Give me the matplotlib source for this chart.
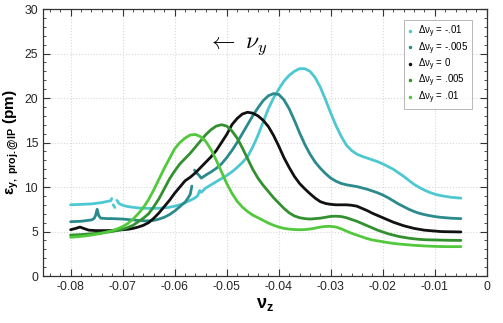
import numpy as np
import matplotlib
matplotlib.use("Agg")
import matplotlib.pyplot as plt
from matplotlib.lines import Line2D

plt.rcParams["font.family"] = ["Liberation Sans", "DejaVu Sans"]
plt.rcParams["mathtext.fontset"] = "custom"
plt.rcParams["mathtext.rm"] = "Liberation Sans"
plt.rcParams["mathtext.it"] = "Liberation Sans:italic"
plt.rcParams["mathtext.bf"] = "Liberation Sans:bold"
plt.rcParams["mathtext.default"] = "rm"
plt.rcParams["axes.unicode_minus"] = False

nan = np.nan

# delta nu_y = -.01  (nan = gap in the scan)
nuz_m010 = [-0.0800, -0.0780, -0.0760, -0.0740, -0.0728, -0.0723, -0.0721, nan,
            -0.0718, -0.0715, nan,
            -0.0711, -0.0707, -0.0700, -0.0690, -0.0680, -0.0670, -0.0660, -0.0650,
            -0.0640, -0.0630, -0.0620, -0.0610, -0.0600, -0.0590, -0.0580, -0.0570,
            -0.0562, -0.0556, -0.0552, -0.0549, -0.0540, -0.0530, -0.0520, -0.0510,
            -0.0500, -0.0490, -0.0480, -0.0470, -0.0460, -0.0450, -0.0440, -0.0430,
            -0.0420, -0.0410, -0.0400, -0.0390, -0.0380, -0.0370, -0.0360, -0.0350,
            -0.0340, -0.0330, -0.0320, -0.0310, -0.0300, -0.0290, -0.0280, -0.0270,
            -0.0260, -0.0250, -0.0240, -0.0230, -0.0220, -0.0210, -0.0200, -0.0190,
            -0.0180, -0.0170, -0.0160, -0.0150, -0.0140, -0.0130, -0.0120, -0.0110,
            -0.0100, -0.0090, -0.0080, -0.0070, -0.0060, -0.0050]
eps_m010 = [8.0, 8.05, 8.1, 8.25, 8.4, 8.45, 8.7, nan,
            8.0, 7.7, nan,
            8.5, 8.15, 7.95, 7.8, 7.72, 7.65, 7.62, 7.6,
            7.6, 7.62, 7.66, 7.72, 7.85, 8.0, 8.25, 8.5,
            8.75, 9.0, 9.6, 9.4, 9.9, 10.25, 10.6, 10.95,
            11.3, 11.7, 12.2, 12.75, 13.4, 14.5, 15.8, 17.3,
            18.8, 20.0, 21.0, 21.9, 22.55, 23.0, 23.3, 23.3,
            23.0, 22.3, 21.2, 19.8, 18.3, 16.9, 15.7, 14.7,
            14.1, 13.7, 13.45, 13.25, 13.05, 12.85, 12.6, 12.3,
            12.0, 11.6, 11.2, 10.75, 10.3, 9.95, 9.65, 9.4,
            9.2, 9.05, 8.95, 8.85, 8.8, 8.75]

# delta nu_y = -.005
nuz_m005 = [-0.0800, -0.0780, -0.0760, -0.0755, -0.0752, -0.0749, -0.0746, -0.0742,
            -0.0730, -0.0720, -0.0700, -0.0680, -0.0660, -0.0650, -0.0640, -0.0630,
            -0.0620, -0.0610, -0.0600, -0.0590, -0.0580, -0.0575, -0.0570, -0.0567, nan,
            -0.0562, -0.0558, -0.0553, -0.0549, -0.0545, -0.0540, -0.0530, -0.0520,
            -0.0510, -0.0500, -0.0490, -0.0480, -0.0470, -0.0460, -0.0450, -0.0440,
            -0.0430, -0.0420, -0.0410, -0.0400, -0.0390, -0.0380, -0.0370, -0.0360,
            -0.0350, -0.0340, -0.0330, -0.0320, -0.0310, -0.0300, -0.0290, -0.0280,
            -0.0270, -0.0260, -0.0250, -0.0240, -0.0230, -0.0220, -0.0210, -0.0200,
            -0.0190, -0.0180, -0.0170, -0.0160, -0.0150, -0.0140, -0.0130, -0.0120,
            -0.0110, -0.0100, -0.0090, -0.0080, -0.0070, -0.0060, -0.0050]
eps_m005 = [6.1, 6.15, 6.3, 6.45, 6.8, 7.5, 6.8, 6.5,
            6.45, 6.45, 6.4, 6.3, 6.2, 6.2, 6.25, 6.4,
            6.6, 6.9, 7.3, 7.8, 8.3, 8.7, 9.2, 10.1, nan,
            11.9, 11.6, 11.3, 11.0, 11.15, 11.35, 11.7, 12.1,
            12.6, 13.3, 14.1, 15.0, 16.0, 17.0, 18.0, 18.9,
            19.7, 20.25, 20.5, 20.4, 19.8, 18.8, 17.5, 16.1,
            14.8, 13.7, 12.8, 12.1, 11.5, 11.0, 10.65, 10.4,
            10.25, 10.15, 10.05, 9.9, 9.75, 9.55, 9.35, 9.1,
            8.8, 8.45, 8.1, 7.8, 7.5, 7.25, 7.05, 6.9,
            6.78, 6.68, 6.6, 6.55, 6.5, 6.47, 6.45]

# delta nu_y = 0
nuz_0 = [-0.0800, -0.0790, -0.0782, -0.0775, -0.0765, -0.0750, -0.0730, -0.0710,
         -0.0690, -0.0680, -0.0670, -0.0660, -0.0650, -0.0640, -0.0630, -0.0620,
         -0.0610, -0.0600, -0.0590, -0.0580, -0.0570, -0.0560, -0.0550, -0.0540,
         -0.0530, -0.0520, -0.0510, -0.0500, -0.0490, -0.0480, -0.0470, -0.0460,
         -0.0450, -0.0440, -0.0430, -0.0420, -0.0410, -0.0400, -0.0390, -0.0380,
         -0.0370, -0.0360, -0.0350, -0.0340, -0.0330, -0.0320, -0.0310, -0.0300,
         -0.0290, -0.0280, -0.0270, -0.0260, -0.0250, -0.0240, -0.0230, -0.0220,
         -0.0210, -0.0200, -0.0190, -0.0180, -0.0170, -0.0160, -0.0150, -0.0140,
         -0.0130, -0.0120, -0.0110, -0.0100, -0.0090, -0.0080, -0.0060, -0.0050]
eps_0 = [5.2, 5.35, 5.5, 5.35, 5.15, 5.1, 5.1, 5.15,
         5.25, 5.35, 5.5, 5.7, 6.0, 6.5, 7.1, 7.8,
         8.5, 9.3, 10.0, 10.7, 11.1, 11.6, 12.2, 12.8,
         13.4, 14.1, 15.0, 15.9, 17.0, 17.7, 18.2, 18.4,
         18.3, 18.0, 17.5, 16.8, 15.8, 14.6, 13.3, 12.2,
         11.2, 10.4, 9.8, 9.25, 8.75, 8.35, 8.15, 8.05,
         8.0, 8.0, 8.0, 7.95, 7.85, 7.6, 7.35, 7.05,
         6.8, 6.55, 6.3, 6.05, 5.85, 5.65, 5.5, 5.35,
         5.25, 5.15, 5.1, 5.05, 5.0, 4.98, 4.96, 4.95]

# delta nu_y = .005
nuz_p005 = [-0.0800, -0.0780, -0.0760, -0.0740, -0.0720, -0.0700, -0.0690, -0.0680,
            -0.0670, -0.0660, -0.0650, -0.0640, -0.0630, -0.0620, -0.0610, -0.0600,
            -0.0590, -0.0580, -0.0570, -0.0560, -0.0550, -0.0540, -0.0530, -0.0520,
            -0.0510, -0.0500, -0.0490, -0.0480, -0.0470, -0.0460, -0.0450, -0.0440,
            -0.0430, -0.0420, -0.0410, -0.0400, -0.0390, -0.0380, -0.0370, -0.0360,
            -0.0350, -0.0340, -0.0330, -0.0320, -0.0310, -0.0300, -0.0290, -0.0280,
            -0.0270, -0.0260, -0.0250, -0.0240, -0.0230, -0.0220, -0.0210, -0.0200,
            -0.0190, -0.0180, -0.0170, -0.0160, -0.0150, -0.0140, -0.0130, -0.0120,
            -0.0100, -0.0080, -0.0050]
eps_p005 = [4.6, 4.65, 4.75, 4.85, 5.0, 5.25, 5.45, 5.7,
            6.1, 6.5, 7.0, 7.8, 8.7, 9.8, 10.9, 11.8,
            12.6, 13.2, 13.8, 14.5, 15.2, 15.9, 16.45, 16.85,
            17.0, 16.85, 16.3, 15.5, 14.4, 13.2, 12.0, 11.0,
            10.2, 9.5, 8.8, 8.2, 7.6, 7.1, 6.75, 6.55,
            6.45, 6.4, 6.45, 6.5, 6.6, 6.7, 6.72, 6.68,
            6.55, 6.35, 6.15, 5.9, 5.65, 5.4, 5.15, 4.95,
            4.75, 4.6, 4.45, 4.35, 4.25, 4.18, 4.12, 4.08,
            4.05, 4.02, 4.0]

# delta nu_y = .01
nuz_p010 = [-0.0800, -0.0780, -0.0760, -0.0740, -0.0720, -0.0710, -0.0700, -0.0690,
            -0.0680, -0.0670, -0.0660, -0.0650, -0.0640, -0.0630, -0.0620, -0.0610,
            -0.0600, -0.0590, -0.0580, -0.0570, -0.0560, -0.0550, -0.0540, -0.0530,
            -0.0520, -0.0510, -0.0500, -0.0490, -0.0480, -0.0470, -0.0460, -0.0450,
            -0.0440, -0.0430, -0.0420, -0.0410, -0.0400, -0.0390, -0.0380, -0.0370,
            -0.0360, -0.0350, -0.0340, -0.0330, -0.0320, -0.0310, -0.0300, -0.0290,
            -0.0280, -0.0270, -0.0260, -0.0250, -0.0240, -0.0230, -0.0220, -0.0210,
            -0.0200, -0.0190, -0.0180, -0.0170, -0.0160, -0.0150, -0.0140, -0.0120,
            -0.0100, -0.0080, -0.0050]
eps_p010 = [4.35, 4.45, 4.6, 4.8, 5.1, 5.3, 5.55, 5.9,
            6.4, 7.0, 7.7, 8.6, 9.7, 10.9, 12.1, 13.2,
            14.3, 15.0, 15.5, 15.85, 15.9, 15.65, 15.1, 14.2,
            13.0, 11.7, 10.4, 9.3, 8.4, 7.75, 7.25, 6.85,
            6.55, 6.25, 5.95, 5.7, 5.5, 5.35, 5.27, 5.22,
            5.2, 5.22, 5.28, 5.38, 5.5, 5.57, 5.58, 5.5,
            5.3, 5.05, 4.8, 4.6, 4.4, 4.2, 4.05, 3.95,
            3.85, 3.75, 3.67, 3.6, 3.55, 3.5, 3.45, 3.38,
            3.33, 3.3, 3.3]

series = [
    (nuz_m010, eps_m010, "#4ec8d0", "-.01"),
    (nuz_m005, eps_m005, "#2b8a8c", "-.005"),
    (nuz_0, eps_0, "#111111", "0"),
    (nuz_p005, eps_p005, "#33902f", ".005"),
    (nuz_p010, eps_p010, "#52c93c", ".01"),
]

fig = plt.figure(figsize=(5.03, 3.23), dpi=100)
ax = fig.add_axes([0.0855, 0.1455, 0.8825, 0.8265])

handles = []
for x, y, c, lab in series:
    ax.plot(x, y, color=c, lw=2.0, solid_capstyle="round", solid_joinstyle="round")
    handles.append(Line2D([], [], color=c, marker=".", ls="none", markersize=3,
                          label=r"$\Delta\nu_y$ = " + lab))

ax.set_xlim(-0.0853, 0)
ax.set_ylim(0, 30)
ax.set_xticks(np.arange(-0.08, 0.001, 0.01))
ax.set_xticklabels(["-0.08", "-0.07", "-0.06", "-0.05", "-0.04", "-0.03", "-0.02", "-0.01", "0"])
ax.set_yticks(np.arange(0, 31, 5))
ax.set_xticks(np.arange(-0.084, 0.0001, 0.002), minor=True)
ax.set_yticks(np.arange(0, 31, 1), minor=True)
ax.tick_params(which="both", direction="in", top=True, right=True,
               labelsize=8.8, labelcolor="#262626", color="#333333")
ax.tick_params(which="major", length=5, width=0.8)
ax.tick_params(which="minor", length=2.5, width=0.6)
for s in ax.spines.values():
    s.set_color("#333333")
    s.set_linewidth(0.9)
ax.grid(True, which="major", color="#d9d9d9", ls=":", lw=0.8)
ax.set_axisbelow(True)

ax.set_xlabel(r"$\mathbf{\nu_z}$", fontsize=13, labelpad=2)
ax.set_ylabel(r"$\mathbf{\varepsilon_{y,\ proj.@IP}}$ (pm)", fontsize=11,
              fontweight="bold")
ax.yaxis.set_label_coords(-0.05, 0.5)

ax.text(-0.0537, 25.8, r"$\leftarrow\ \nu_{\mathit{y}}$", math_fontfamily="cm",
        fontsize=17, va="center", ha="left")

leg = ax.legend(handles=handles, loc="upper right", bbox_to_anchor=(0.97, 0.965),
                fontsize=7, frameon=True, fancybox=False, edgecolor="#999999",
                handlelength=0.6, handletextpad=0.5, labelspacing=0.0,
                borderpad=0.35, borderaxespad=0.2, markerscale=1.0)
leg.get_frame().set_linewidth(0.6)

fig.savefig("out.png", dpi=100)
